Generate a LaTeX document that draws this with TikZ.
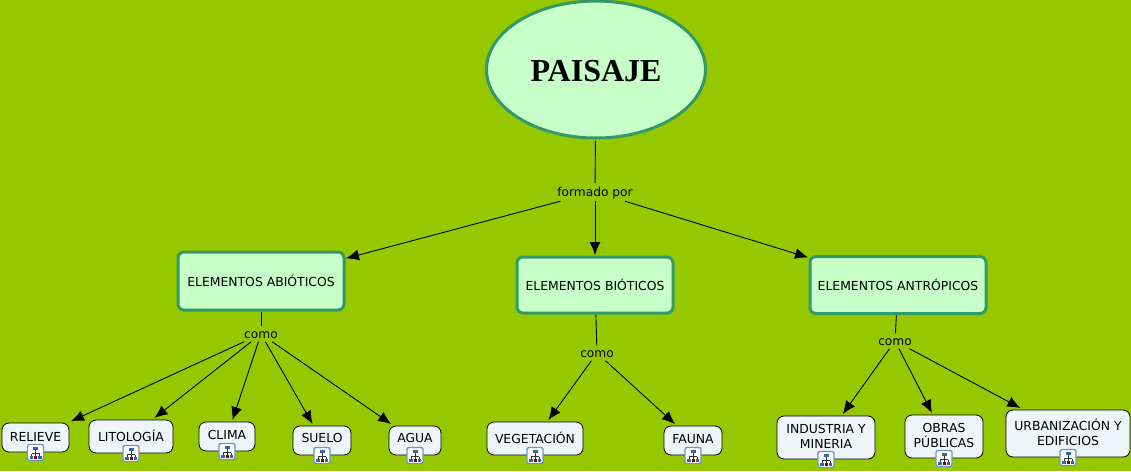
\documentclass[tikz,border=0pt]{standalone}
\usepackage{fontspec}
\setmainfont{DejaVu Sans}
\newfontfamily\titlefont{Liberation Serif}
\usetikzlibrary{arrows.meta,shapes.geometric}
\definecolor{fondo}{HTML}{96C800}
\definecolor{relleno}{HTML}{C8FFC8}
\definecolor{borde}{HTML}{339966}
\definecolor{hoja}{HTML}{EEF5F8}
\definecolor{azul}{HTML}{3366AA}
\tikzset{
  titulo/.style={ellipse,draw=borde,fill=relleno,line width=3pt,inner sep=0pt,outer sep=3pt,
    minimum width=219pt,minimum height=137pt,text height=24pt,text depth=0pt,
    font=\titlefont\fontsize{32}{36}\selectfont\bfseries},
  grupo/.style={draw=borde,fill=relleno,line width=3pt,rounded corners=6pt,inner sep=0pt,outer sep=2pt,
    text height=11pt,text depth=0pt,font=\fontsize{12.4}{14}\selectfont},
  hojita/.style={draw=black,fill=hoja,line width=0.8pt,rounded corners=7pt,inner sep=0pt,outer sep=2pt,
    align=center,text depth=2pt,font=\fontsize{12.4}{15}\selectfont},
  enlace/.style={inner sep=0pt,text height=9pt,text depth=0pt,font=\fontsize{12.2}{14}\selectfont},
  linea/.style={draw=black,line width=0.9pt},
  flecha/.style={linea,-{Latex[length=13pt,width=11pt]}},
  arbol/.pic={
    \draw[draw=azul!70,fill=white,line width=1.4pt,rounded corners=2pt] (-8,-9.5) rectangle (8,6.5);
    \draw[black!80,line width=0.8pt] (0,-4.5) -- (0,2.5) (-4,-0.5) -- (4,-0.5) (-4,-0.5) -- (-4,2.5) (4,-0.5) -- (4,2.5);
    \fill[azul] (-2.5,-7.5) rectangle (2.5,-4);
    \fill[azul] (-6,1.5) rectangle (-2.5,4.5);
    \fill[azul] (2.5,1.5) rectangle (6,4.5);
    \fill[red!50!black] (-1.5,1.5) rectangle (1.5,4.5);
  }
}
\begin{document}
\begin{tikzpicture}[x=1pt,y=-1pt]
  \useasboundingbox (0,0) rectangle (1131,471);
  \fill[fondo] (0,0) rectangle (1131,471);

  \node[titulo] (paisaje) at (596,69.5) {PAISAJE};
  \node[enlace,minimum width=76pt,minimum height=18pt] (formado) at (595,192) {formado por};

  \node[grupo,minimum width=166pt,minimum height=58pt] (abioticos) at (261,281) {ELEMENTOS ABIÓTICOS};
  \node[grupo,minimum width=156pt,minimum height=56pt] (bioticos) at (595,285) {ELEMENTOS BIÓTICOS};
  \node[grupo,minimum width=176pt,minimum height=57pt] (antropicos) at (898,285) {ELEMENTOS ANTRÓPICOS};

  \node[enlace,minimum width=36pt,minimum height=15pt] (como1) at (261,334) {como};
  \node[enlace,minimum width=36pt,minimum height=15pt] (como2) at (597,353) {como};
  \node[enlace,minimum width=36pt,minimum height=15pt] (como3) at (895,341) {como};

  \node[hojita,minimum width=67pt,minimum height=29pt] (relieve) at (35.5,437.5) {RELIEVE};
  \node[hojita,minimum width=84pt,minimum height=33pt] (litologia) at (131,436.5) {LITOLOGÍA};
  \node[hojita,minimum width=56pt,minimum height=29pt,text depth=4pt] (clima) at (227,436.5) {CLIMA};
  \node[hojita,minimum width=58pt,minimum height=29pt,text depth=5pt] (suelo) at (322,440.5) {SUELO};
  \node[hojita,minimum width=52pt,minimum height=29pt,text depth=5pt] (agua) at (415,440.5) {AGUA};
  \node[hojita,minimum width=96pt,minimum height=33pt] (vegetacion) at (535,438.5) {VEGETACIÓN};
  \node[hojita,minimum width=58pt,minimum height=29pt,text depth=4pt] (fauna) at (693,440.5) {FAUNA};
  \node[hojita,minimum width=98pt,minimum height=43pt] (industria) at (826,437.5) {INDUSTRIA Y\\MINERIA};
  \node[hojita,minimum width=78pt,minimum height=43pt] (obras) at (944,436.5) {OBRAS\\PÚBLICAS};
  \node[hojita,minimum width=124pt,minimum height=47pt] (urbanizacion) at (1068,433.5) {URBANIZACIÓN Y\\EDIFICIOS};

  \draw[linea] (paisaje) -- (formado);
  \draw[flecha] (formado) -- (abioticos);
  \draw[flecha] (formado) -- (bioticos);
  \draw[flecha] (formado) -- (antropicos);

  \draw[linea] (abioticos) -- (como1);
  \draw[linea] (bioticos) -- (como2);
  \draw[linea] (antropicos) -- (como3);

  \foreach \hijo in {relieve,litologia,clima,suelo,agua}
    \draw[flecha] (como1) -- (\hijo);
  \foreach \hijo in {vegetacion,fauna}
    \draw[flecha] (como2) -- (\hijo);
  \foreach \hijo in {industria,obras,urbanizacion}
    \draw[flecha] (como3) -- (\hijo);

  \foreach \hijo in {relieve,litologia,clima,suelo,agua,vegetacion,fauna,industria,obras,urbanizacion}
    \pic at (\hijo.south) {arbol};
\end{tikzpicture}
\end{document}
